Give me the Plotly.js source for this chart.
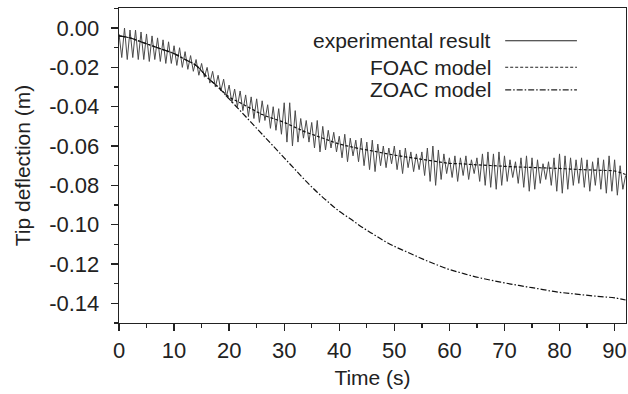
<!DOCTYPE html>
<html>
<head>
<meta charset="utf-8">
<script src="https://cdn.plot.ly/plotly-3.0.1.min.js"></script>
<style>html,body{margin:0;padding:0;background:#fff;}#chart{width:628px;height:394px;}</style>
</head>
<body>
<div id="chart"></div>
<script>
// Experimental tip deflection (m), sampled every 0.5 s from t = 0 to 92 s (alternating crest/trough)
var expStep = 0.5;
var expValues = [
 -0.003,-0.015, 0.000,-0.016,-0.001,-0.015,-0.001,-0.016,-0.002,-0.016,
 -0.003,-0.017,-0.004,-0.016,-0.005,-0.017,-0.006,-0.018,-0.007,-0.018,
 -0.009,-0.019,-0.010,-0.020,-0.012,-0.021,-0.014,-0.022,-0.016,-0.024,
 -0.018,-0.025,-0.020,-0.028,-0.022,-0.030,-0.024,-0.032,-0.026,-0.035,
 -0.029,-0.038,-0.031,-0.040,-0.032,-0.042,-0.034,-0.045,-0.035,-0.046,
 -0.036,-0.048,-0.037,-0.047,-0.039,-0.051,-0.040,-0.052,-0.041,-0.054,
 -0.038,-0.058,-0.038,-0.060,-0.042,-0.058,-0.046,-0.056,-0.047,-0.058,
 -0.048,-0.061,-0.047,-0.063,-0.050,-0.062,-0.052,-0.061,-0.053,-0.063,
 -0.055,-0.066,-0.054,-0.068,-0.056,-0.065,-0.057,-0.068,-0.056,-0.070,
 -0.058,-0.072,-0.057,-0.073,-0.059,-0.070,-0.060,-0.071,-0.061,-0.069,
 -0.060,-0.072,-0.062,-0.074,-0.061,-0.071,-0.063,-0.073,-0.064,-0.072,
 -0.063,-0.075,-0.061,-0.078,-0.060,-0.080,-0.062,-0.077,-0.064,-0.074,
 -0.066,-0.076,-0.065,-0.078,-0.066,-0.075,-0.065,-0.077,-0.067,-0.074,
 -0.066,-0.078,-0.064,-0.080,-0.063,-0.081,-0.064,-0.082,-0.063,-0.080,
 -0.065,-0.078,-0.067,-0.076,-0.068,-0.079,-0.066,-0.081,-0.065,-0.083,
 -0.066,-0.082,-0.067,-0.079,-0.069,-0.077,-0.068,-0.080,-0.066,-0.083,
 -0.064,-0.084,-0.065,-0.082,-0.066,-0.080,-0.067,-0.079,-0.066,-0.081,
 -0.067,-0.083,-0.068,-0.080,-0.066,-0.082,-0.067,-0.084,-0.065,-0.083,
 -0.067,-0.085,-0.070,-0.082,-0.075
];
// Model curves sampled every 2 s from t = 0 to 92 s
var modelStep = 2;
var foacValues = [
 -0.004,-0.005,-0.007,-0.009,-0.011,-0.013,-0.016,-0.019,-0.025,-0.030,
 -0.035,-0.038,-0.041,-0.044,-0.046,-0.048,-0.0505,-0.053,-0.055,-0.057,
 -0.059,-0.0603,-0.0615,-0.0625,-0.0636,-0.0646,-0.0655,-0.0663,-0.0672,-0.068,
 -0.0688,-0.069,-0.0694,-0.0697,-0.070,-0.0703,-0.0706,-0.0708,-0.071,-0.0712,
 -0.0714,-0.0717,-0.072,-0.0722,-0.0724,-0.0727,-0.0745
];
var zoacValues = [
 -0.004,-0.005,-0.007,-0.009,-0.011,-0.013,-0.016,-0.019,-0.025,-0.030,
 -0.036,-0.042,-0.048,-0.054,-0.060,-0.066,-0.072,-0.078,-0.0835,-0.0885,
 -0.0932,-0.097,-0.101,-0.1045,-0.108,-0.111,-0.1135,-0.116,-0.1185,-0.1207,
 -0.1228,-0.1244,-0.126,-0.1273,-0.1285,-0.1296,-0.1306,-0.1316,-0.1325,-0.1335,
 -0.1344,-0.135,-0.1356,-0.1362,-0.1367,-0.1372,-0.1383
];
var seriesNames = ['experimental result','FOAC model','ZOAC model'];
var xTickVals = [0,10,20,30,40,50,60,70,80,90];
var xTickText = ['0','10','20','30','40','50','60','70','80','90'];
var yTickVals = [0,-0.02,-0.04,-0.06,-0.08,-0.10,-0.12,-0.14];
var yTickText = ['0.00','-0.02','-0.04','-0.06','-0.08','-0.10','-0.12','-0.14'];

var expTime = expValues.map(function(v,i){return i*expStep;});
var modelTime = foacValues.map(function(v,i){return i*modelStep;});

var FONT = 'Liberation Sans, Arial, sans-serif';
var traces = [
 {x: expTime, y: expValues, type:'scatter', mode:'lines', name: seriesNames[0],
  line:{color:'#4a4a4a', width:1}},
 {x: modelTime, y: foacValues, type:'scatter', mode:'lines', name: seriesNames[1],
  line:{color:'#111', width:1.2, dash:'3px,2px', shape:'spline'}},
 {x: modelTime, y: zoacValues, type:'scatter', mode:'lines', name: seriesNames[2],
  line:{color:'#111', width:1.2, dash:'6px,2px,1.5px,2px', shape:'spline'}}
];

var legendY = [0.896, 0.8117, 0.740];
var legendDash = ['solid','3px,2px','6px,2px,1.5px,2px'];
var annotations = [], shapes = [];
for (var k=0;k<3;k++){
  annotations.push({xref:'paper', yref:'paper', x:0.7374, y:legendY[k], xanchor:'right', yanchor:'middle',
    text: seriesNames[k], showarrow:false, font:{family:FONT, size:21, color:'#222'}});
  shapes.push({type:'line', xref:'paper', yref:'paper', x0:0.7617, x1:0.9032, y0:legendY[k], y1:legendY[k],
    line:{color:'#222', width:1.1, dash:legendDash[k]}});
}

var axisCommon = {showgrid:false, zeroline:false, showline:true, linecolor:'#222', linewidth:1.3,
  mirror:true, ticks:'outside', tickcolor:'#222', tickwidth:1.3, ticklen:7,
  tickfont:{family:FONT, size:22, color:'#222'}};

var layout = {
  width:628, height:394, margin:{l:119, r:2, t:8, b:71},
  paper_bgcolor:'#fff', plot_bgcolor:'#fff', showlegend:false,
  font:{family:FONT, color:'#222'},
  xaxis: Object.assign({}, axisCommon, {range:[0,92.07], tickmode:'array', tickvals:xTickVals, ticktext:xTickText,
    minor:{dtick:5, ticks:'outside', ticklen:4, tickcolor:'#222', tickwidth:1.3},
    title:{text:'Time (s)', font:{family:FONT, size:21, color:'#222'}, standoff:8}}),
  yaxis: Object.assign({}, axisCommon, {range:[-0.15,0.0102], tickmode:'array', tickvals:yTickVals, ticktext:yTickText,
    ticklabelstandoff:7,
    minor:{dtick:0.01, tick0:0, ticks:'outside', ticklen:4, tickcolor:'#222', tickwidth:1.3},
    title:{text:'Tip deflection (m)', font:{family:FONT, size:21, color:'#222'}, standoff:12}}),
  annotations: annotations, shapes: shapes
};
Plotly.newPlot('chart', traces, layout, {staticPlot:true, displayModeBar:false});
</script>
</body>
</html>
